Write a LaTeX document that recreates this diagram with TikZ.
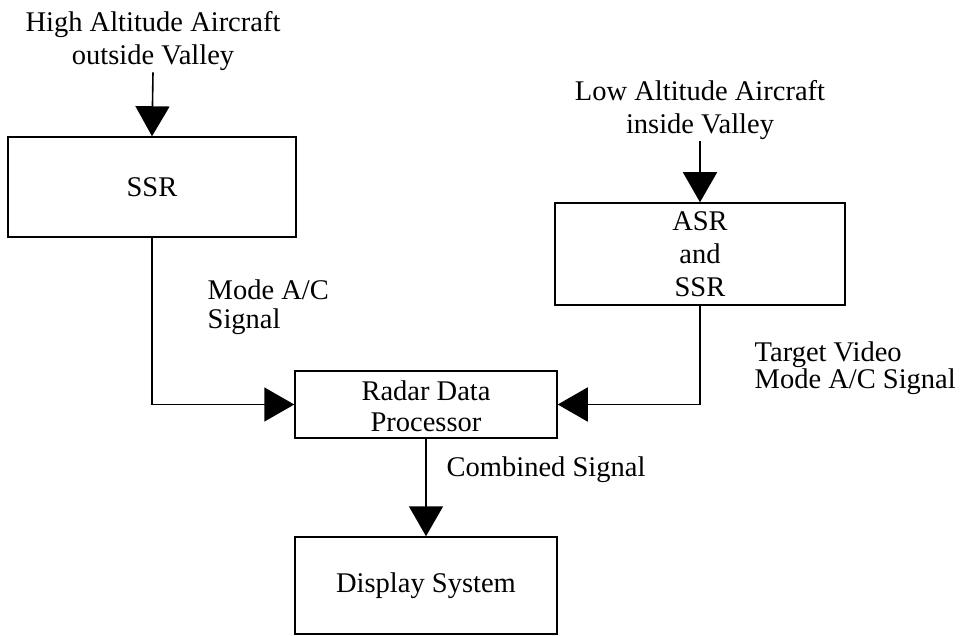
\documentclass[tikz,border=0pt]{standalone}
\usepackage{fontspec}
\setmainfont{Liberation Serif}
\usetikzlibrary{arrows.meta}

\tikzset{
  txt/.style={font=\fontsize{28.5}{33}\selectfont, inner sep=1.5pt},
  block/.style={draw, line width=1.5pt, rectangle, inner sep=0pt,
                font=\fontsize{28.5}{33}\selectfont, align=center},
  flow/.style={line width=1.6pt, -{Triangle[length=30pt,width=34pt]}},
}

\begin{document}
\begin{tikzpicture}[x=1pt,y=-1pt]
  \useasboundingbox (0,0) rectangle (969,636);

  % sources
  \node[txt, align=center] (hi) at (153,41) {High Altitude Aircraft\\outside Valley};
  \node[txt, align=center] (lo) at (700,110) {Low Altitude Aircraft\\inside Valley};

  % radar blocks
  \node[block, minimum width=288pt, minimum height=100pt] (ssr) at (152,187) {SSR};
  \node[block, minimum width=290pt, minimum height=102pt] (asr) at (700,254) {ASR\\and\\SSR};
  \node[block, minimum width=262pt, minimum height=67pt] (rdp) at (426,404.5) {};
  \node[txt, align=center, font=\fontsize{28.5}{31}\selectfont] (rdptxt) at (426,406) {Radar Data\\Processor};
  \node[block, minimum width=262pt, minimum height=97pt] (disp) at (426,585.5) {Display System};

  % connector labels
  \node[txt, align=left, anchor=west, font=\fontsize{28.5}{29}\selectfont] (lblA) at (206,307) {Mode A/C\\Signal};
  \node[txt, align=left, anchor=west, font=\fontsize{28.5}{25}\selectfont] (lblB) at (753,368) {Target Video\\Mode A/C Signal};
  \node[txt, anchor=base west] (lblC) at (445,476) {Combined Signal};

  % connectors
  \draw[flow] (hi.south) -- (ssr.north);
  \draw[flow] (lo.south) -- (asr.north);
  \draw[flow] (ssr.south) |- (rdp.west);
  \draw[flow] (asr.south) |- (rdp.east);
  \draw[flow] (rdp.south) -- (disp.north);
\end{tikzpicture}
\end{document}
